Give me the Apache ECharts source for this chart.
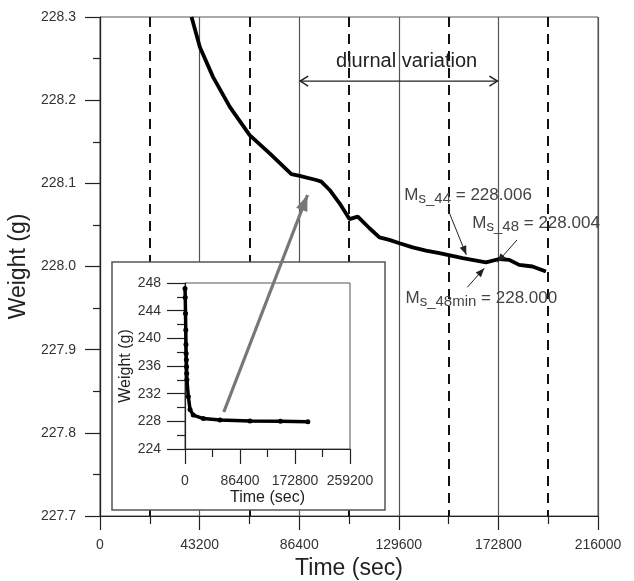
<!doctype html>
<html lang="en">
<head>
    <meta charset="UTF-8">
    <title>Weight vs time</title>
    <script src="https://cdn.jsdelivr.net/npm/echarts@6/dist/echarts.min.js"></script>
    <style>
        html, body { margin: 0; padding: 0; background: #fff; }
        #chart { width: 634px; height: 581px; }
    </style>
</head>
<body>
<div id="chart"></div>
<script type="text/javascript">
/* 1. data */
/* main plot : time (sec) / weight (g) */
let mainTime = [39700, 43300, 49000, 56300, 64900, 73600, 83000, 86600, 93800, 96000, 99600, 103900,
    108200, 111800, 116900, 121200, 125500, 129900, 135600, 141400, 147200, 157300, 167400,
    173200, 177500, 181800, 187600, 193400];
let mainWeight = [228.300, 228.264, 228.228, 228.192, 228.158, 228.136, 228.111, 228.109, 228.104, 228.102,
    228.092, 228.076, 228.057, 228.060, 228.046, 228.035, 228.032, 228.028, 228.023, 228.019,
    228.016, 228.010, 228.005, 228.009, 228.008, 228.002, 228.000, 227.994];

/* inset : whole test */
let insetTime = [0, 400, 800, 1200, 1500, 1800, 2100, 2400, 2700, 3000, 5200, 7900, 13000, 28800,
    55000, 102000, 150000, 193000];
let insetWeight = [247.2, 245.9, 243.6, 241.2, 239.1, 237.8, 236.9, 235.9, 234.9, 234.0, 231.6, 229.7,
    228.9, 228.4, 228.2, 228.05, 228.0, 227.95];

/* annotations (data coords of main plot) */
let noteMs44 = {text: [132000, 228.086], from: [151000, 228.068], to: [158900, 228.014]};
let noteMs48 = {text: [161500, 228.052], from: [180900, 228.032], to: [172300, 228.005]};
let noteMs48min = {text: [132500, 227.962], from: [159300, 227.975], to: [166700, 227.998]};

let FONT = 'Liberation Sans, Arial, sans-serif';

function zip(a, b) {
    return a.map(function (v, i) { return [v, b[i]]; });
}

function plain(v) {
    return String(v);
}

/* 2. chart */
let chart = echarts.init(document.getElementById('chart'), null, {renderer: 'canvas'});

let option = {
    animation: false,
    textStyle: {fontFamily: FONT},
    grid: [
        {left: 100, right: 36, top: 17, bottom: 65, show: true, borderColor: '#555', borderWidth: 1,
            containLabel: false, outerBoundsMode: 'none'},
        {left: 185, right: 284, top: 283, bottom: 132, show: true, borderColor: '#555', borderWidth: 1, z: 3,
            containLabel: false, outerBoundsMode: 'none'}
    ],
    xAxis: [
        {
            type: 'value', gridIndex: 0, min: 0, max: 216000, interval: 43200,
            name: 'Time (sec)', nameLocation: 'middle', nameGap: 36,
            nameTextStyle: {fontSize: 23, color: '#222', fontFamily: FONT},
            axisLine: {show: true, onZero: false, lineStyle: {color: '#222', width: 1.2}},
            axisTick: {show: true, inside: false, length: 14, lineStyle: {color: '#222', width: 1.2}},
            minorTick: {show: true, splitNumber: 2, length: 8, lineStyle: {color: '#222', width: 1.2}},
            axisLabel: {fontSize: 14, color: '#333', margin: 22, formatter: plain},
            splitLine: {show: true, lineStyle: {color: '#555', width: 1.2}},
            minorSplitLine: {show: true, lineStyle: {color: '#111', width: 2, type: [10, 7]}}
        },
        {
            type: 'value', gridIndex: 1, min: 0, max: 259200, interval: 86400, z: 3,
            name: 'Time (sec)', nameLocation: 'middle', nameGap: 41,
            nameTextStyle: {fontSize: 16, color: '#222', fontFamily: FONT},
            axisLine: {show: true, onZero: false, lineStyle: {color: '#222', width: 1.2}},
            axisTick: {show: true, length: 15, lineStyle: {color: '#222', width: 1.2}},
            minorTick: {show: true, splitNumber: 2, length: 8, lineStyle: {color: '#222', width: 1.2}},
            axisLabel: {fontSize: 14, color: '#333', margin: 25, formatter: plain},
            splitLine: {show: false}
        }
    ],
    yAxis: [
        {
            type: 'value', gridIndex: 0, min: 227.7, max: 228.3, interval: 0.1,
            name: 'Weight (g)', nameLocation: 'middle', nameGap: 63, nameRotate: 90,
            nameTextStyle: {fontSize: 23, color: '#222', fontFamily: FONT},
            axisLine: {show: true, lineStyle: {color: '#222', width: 1.2}},
            axisTick: {show: true, length: 15, lineStyle: {color: '#222', width: 1.2}},
            minorTick: {show: true, splitNumber: 2, length: 7, lineStyle: {color: '#222', width: 1.2}},
            axisLabel: {fontSize: 14, color: '#333', margin: 24, formatter: function (v) { return v.toFixed(1); }},
            splitLine: {show: false}
        },
        {
            type: 'value', gridIndex: 1, min: 224, max: 248, interval: 4, z: 3,
            name: 'Weight (g)', nameLocation: 'middle', nameGap: 50, nameRotate: 90,
            nameTextStyle: {fontSize: 16, color: '#222', fontFamily: FONT},
            axisLine: {show: true, lineStyle: {color: '#222', width: 1.2}},
            axisTick: {show: true, length: 18, lineStyle: {color: '#222', width: 1.2}},
            minorTick: {show: true, splitNumber: 2, length: 8, lineStyle: {color: '#222', width: 1.2}},
            axisLabel: {fontSize: 14, color: '#333', margin: 24},
            splitLine: {show: false}
        }
    ],
    series: [
        {
            type: 'line', xAxisIndex: 0, yAxisIndex: 0, z: 2,
            data: zip(mainTime, mainWeight),
            showSymbol: false, symbol: 'none',
            lineStyle: {color: '#000', width: 3.8}
        },
        {
            type: 'line', xAxisIndex: 1, yAxisIndex: 1, z: 4,
            data: zip(insetTime, insetWeight),
            symbol: 'circle', symbolSize: 5,
            itemStyle: {color: '#000'},
            lineStyle: {color: '#000', width: 3.5}
        }
    ],
    graphic: [
        /* inset frame */
        {
            type: 'rect', z: 1,
            shape: {x: 112, y: 262, width: 273, height: 248},
            style: {fill: '#fff', stroke: '#555', lineWidth: 1.5}
        }
    ]
};
chart.setOption(option);

/* 3. annotations, placed from data coordinates */
function px(p) {
    return chart.convertToPixel({gridIndex: 0}, p);
}

function arrowHead(tip, tail, len, wid, color, id) {
    let dx = tip[0] - tail[0], dy = tip[1] - tail[1];
    let d = Math.sqrt(dx * dx + dy * dy);
    let ux = dx / d, uy = dy / d;
    let bx = tip[0] - ux * len, by = tip[1] - uy * len;
    return {
        type: 'polygon', id: id, z: 10,
        shape: {points: [tip, [bx - uy * wid, by + ux * wid], [bx + uy * wid, by - ux * wid]]},
        style: {fill: color}
    };
}

function arrow(from, to, color, width, len, wid, id) {
    let a = px(from), b = px(to);
    return [
        {type: 'line', id: id + '_l', z: 10, shape: {x1: a[0], y1: a[1], x2: b[0], y2: b[1]},
            style: {stroke: color, lineWidth: width}},
        arrowHead(b, a, len, wid, color, id + '_h')
    ];
}

let richStyle = {
    m: {fontSize: 17, fontFamily: FONT, fill: '#444', color: '#444'},
    s: {fontSize: 15, fontFamily: FONT, fill: '#444', color: '#444', padding: [7, 0, 0, 0]},
    v: {fontSize: 17, fontFamily: FONT, fill: '#444', color: '#444'}
};

function note(n, sub, val, id) {
    let p = px(n.text);
    return [
        {
            type: 'text', id: id, z: 11, x: p[0], y: p[1],
            style: {text: '{m|M}{s|' + sub + '}{v| = ' + val + '}', rich: richStyle,
                verticalAlign: 'middle', align: 'left', fill: '#444'}
        }
    ].concat(arrow(n.from, n.to, '#222', 1, 9, 3.5, id + '_a'));
}

let elems = [];
/* diurnal variation */
let d1 = px([86400, 228.223]), d2 = px([172800, 228.223]);
elems.push({type: 'line', id: 'diu_l', z: 10, shape: {x1: d1[0] + 1, y1: d1[1], x2: d2[0] - 1, y2: d2[1]},
    style: {stroke: '#222', lineWidth: 1.3}});
elems.push({type: 'polyline', id: 'diu_h1', z: 10,
    shape: {points: [[d1[0] + 9, d1[1] - 5], [d1[0] + 1, d1[1]], [d1[0] + 9, d1[1] + 5]]},
    style: {stroke: '#222', lineWidth: 1.5, fill: null}});
elems.push({type: 'polyline', id: 'diu_h2', z: 10,
    shape: {points: [[d2[0] - 9, d2[1] - 5], [d2[0] - 1, d2[1]], [d2[0] - 9, d2[1] + 5]]},
    style: {stroke: '#222', lineWidth: 1.5, fill: null}});
let dt = px([133000, 228.246]);
elems.push({type: 'text', id: 'diu_t', z: 11, x: dt[0], y: dt[1],
    style: {text: 'diurnal variation', fontSize: 20, fontFamily: FONT, fill: '#222',
        align: 'center', verticalAlign: 'middle'}});

elems = elems.concat(note(noteMs44, 's_44', '228.006', 'ms44'));
elems = elems.concat(note(noteMs48, 's_48', '228.004', 'ms48'));
elems = elems.concat(note(noteMs48min, 's_48min', '228.000', 'ms48min'));

/* gray arrow from inset to the zoomed part */
elems = elems.concat(arrow([53700, 227.825], [90000, 228.086], '#777', 3.2, 16, 6, 'zoom'));

chart.setOption({graphic: elems});
</script>
</body>
</html>
